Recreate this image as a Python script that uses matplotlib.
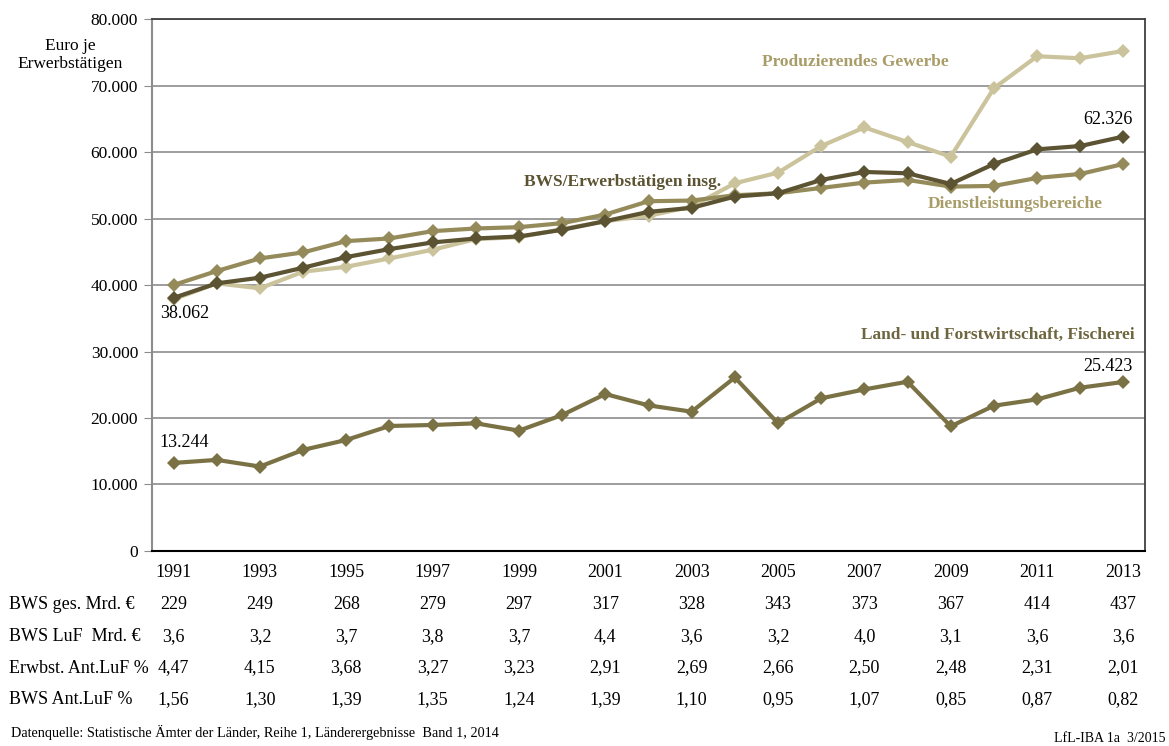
import matplotlib
matplotlib.use("Agg")
import matplotlib.pyplot as plt
import matplotlib.transforms as mtransforms
import numpy as np

plt.rcParams["font.family"] = ["Liberation Serif", "DejaVu Serif"]

# ── data ──────────────────────────────────────────────────────────────────────
years = np.arange(1991, 2014)

bws_total = [38062, 40250, 41100, 42600, 44200, 45400, 46400, 47000, 47300, 48300,
             49600, 51000, 51600, 53300, 53800, 55800, 57000, 56800, 55200, 58200,
             60400, 60900, 62326]
dienst = [40000, 42100, 44000, 44900, 46600, 47000, 48100, 48500, 48700, 49300,
          50600, 52600, 52700, 53500, 53800, 54600, 55400, 55800, 54800, 54900,
          56100, 56700, 58200]
produz = [37850, 40250, 39500, 42000, 42750, 44000, 45300, 46900, 47200, 48400,
          49600, 50400, 51800, 55300, 56900, 60900, 63700, 61500, 59300, 69600,
          74400, 74100, 75200]
luf = [13244, 13700, 12700, 15200, 16700, 18800, 18950, 19200, 18100, 20450,
       23600, 21900, 20950, 26100, 19200, 22960, 24300, 25460, 18750, 21850,
       22800, 24560, 25423]

table_years = list(range(1991, 2014, 2))
row_labels = ["BWS ges. Mrd. \u20ac", "BWS LuF  Mrd. \u20ac", "Erwbst. Ant.LuF %", "BWS Ant.LuF %"]
row_values = [
    ["229", "249", "268", "279", "297", "317", "328", "343", "373", "367", "414", "437"],
    ["3,6", "3,2", "3,7", "3,8", "3,7", "4,4", "3,6", "3,2", "4,0", "3,1", "3,6", "3,6"],
    ["4,47", "4,15", "3,68", "3,27", "3,23", "2,91", "2,69", "2,66", "2,50", "2,48", "2,31", "2,01"],
    ["1,56", "1,30", "1,39", "1,35", "1,24", "1,39", "1,10", "0,95", "1,07", "0,85", "0,87", "0,82"],
]

# ── colours ───────────────────────────────────────────────────────────────────
c_light = "#cbc39b"
c_dark = "#5b5332"
c_mid = "#958b5a"
c_luf = "#7a7244"

fig = plt.figure(figsize=(11.69, 7.46), dpi=100)
ax = fig.add_axes([0.130, 0.2614, 0.8495, 0.7131])

kw = dict(marker="D", markersize=7.5, linewidth=3, markeredgewidth=0)
ax.plot(years, produz, color=c_light, zorder=3, **kw)
ax.plot(years, dienst, color=c_mid, zorder=4, **kw)
ax.plot(years, bws_total, color=c_dark, zorder=5, **kw)
ax.plot(years, luf, color=c_luf, zorder=4, **kw)

ax.set_xlim(1990.5, 2013.5)
ax.set_ylim(0, 80000)
ax.set_yticks(range(0, 80001, 10000))
ax.set_yticklabels(["0"] + [f"{v // 1000}.000" for v in range(10000, 80001, 10000)], fontsize=12.5)
ax.yaxis.grid(True, color="#8c8c8c", linewidth=1.2)
ax.set_axisbelow(True)
ax.tick_params(axis="y", length=6, color="#8c8c8c", pad=4)
ax.set_xticks([])

for s in ["top", "right"]:
    ax.spines[s].set_color("#404040")
    ax.spines[s].set_linewidth(1.3)
ax.spines["left"].set_color("#8c8c8c")
ax.spines["left"].set_linewidth(1.5)
ax.spines["bottom"].set_color("black")
ax.spines["bottom"].set_linewidth(1.5)

# unit label
fig.text(0.060, 0.926, "Euro je\nErwerbst\u00e4tigen", ha="center", va="center",
         fontsize=12.5, linespacing=1.15)

# series labels
bold = dict(fontsize=12.5, fontweight="bold", ha="center", va="center")
ax.text(2006.8, 73600, "Produzierendes Gewerbe", color="#a89c68", **bold)
ax.text(2001.4, 55500, "BWS/Erwerbst\u00e4tigen insg.", color=c_dark, **bold)
ax.text(2010.5, 52200, "Dienstleistungsbereiche", color="#a89c68", **bold)
ax.text(2010.1, 32500, "Land- und Forstwirtschaft, Fischerei", color="#6e6640", **bold)

# value labels
ax.text(1991.25, 35700, "38.062", fontsize=13, ha="center", va="center")
ax.text(1991.25, 16300, "13.244", fontsize=13, ha="center", va="center")
ax.text(2012.65, 64900, "62.326", fontsize=13, ha="center", va="center")
ax.text(2012.65, 27800, "25.423", fontsize=13, ha="center", va="center")

# table below the axis
trans = mtransforms.blended_transform_factory(ax.transData, ax.transAxes)
ftrans = mtransforms.blended_transform_factory(fig.transFigure, ax.transAxes)
for yr in table_years:
    ax.text(yr, -0.040, str(yr), transform=trans, ha="center", va="center", fontsize=13)
row_y = [-0.100, -0.160, -0.220, -0.280]
for lab, vals, ry in zip(row_labels, row_values, row_y):
    ax.text(0.008, ry, lab, transform=ftrans, ha="left", va="center", fontsize=13)
    for yr, v in zip(table_years, vals):
        ax.text(yr, ry, v, transform=trans, ha="center", va="center", fontsize=13)

fig.text(0.009, 0.008, "Datenquelle: Statistische \u00c4mter der L\u00e4nder, Reihe 1, L\u00e4nderergebnisse  Band 1, 2014",
         ha="left", va="bottom", fontsize=10.3)
fig.text(0.997, 0.002, "LfL-IBA 1a  3/2015", ha="right", va="bottom", fontsize=10)

fig.savefig("out.png", dpi=100)
